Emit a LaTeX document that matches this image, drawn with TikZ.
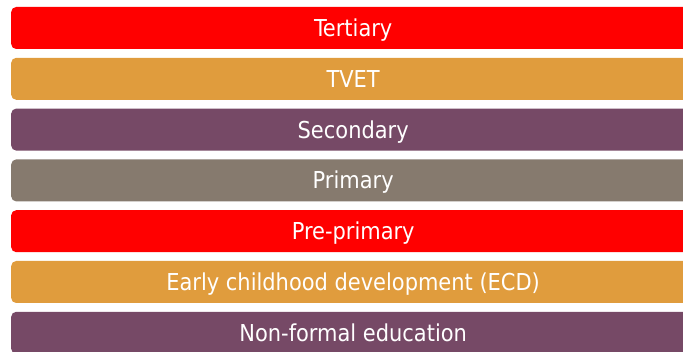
\documentclass[tikz,border=0pt]{standalone}
\usepackage{fontspec}
\setmainfont{DejaVu Sans Condensed}
\definecolor{barRed}{HTML}{FF0000}
\definecolor{barOrange}{HTML}{E09C3D}
\definecolor{barPurple}{HTML}{764966}
\definecolor{barGrey}{HTML}{867A6E}

\begin{document}
\begin{tikzpicture}[x = 1pt, y = 1pt, font=\fontsize{23.3}{27}\selectfont]
	\tikzstyle{levelStyle}=[shape = rectangle, rounded corners = 5pt, minimum width = 684pt, minimum height = 42pt, inner sep = 0pt, text height = 17pt, text depth = 0pt, text = white, anchor = west]
	\useasboundingbox (0,0) rectangle (683,351);
	\clip (0,0) rectangle (683,351);
	\node[levelStyle, fill = barRed]    (tertiary)  at (11, 323.0) {Tertiary};
	\node[levelStyle, fill = barOrange] (tvet)      at (11, 272.2) {TVET};
	\node[levelStyle, fill = barPurple] (secondary) at (11, 221.4) {Secondary};
	\node[levelStyle, fill = barGrey]   (primary)   at (11, 170.6) {Primary};
	\node[levelStyle, fill = barRed]    (preprim)   at (11, 119.8) {Pre-primary};
	\node[levelStyle, fill = barOrange] (ecd)       at (11, 69.0) {Early childhood development (ECD)};
	\node[levelStyle, fill = barPurple] (nonformal) at (11, 18.2) {Non-formal education};
\end{tikzpicture}
\end{document}
